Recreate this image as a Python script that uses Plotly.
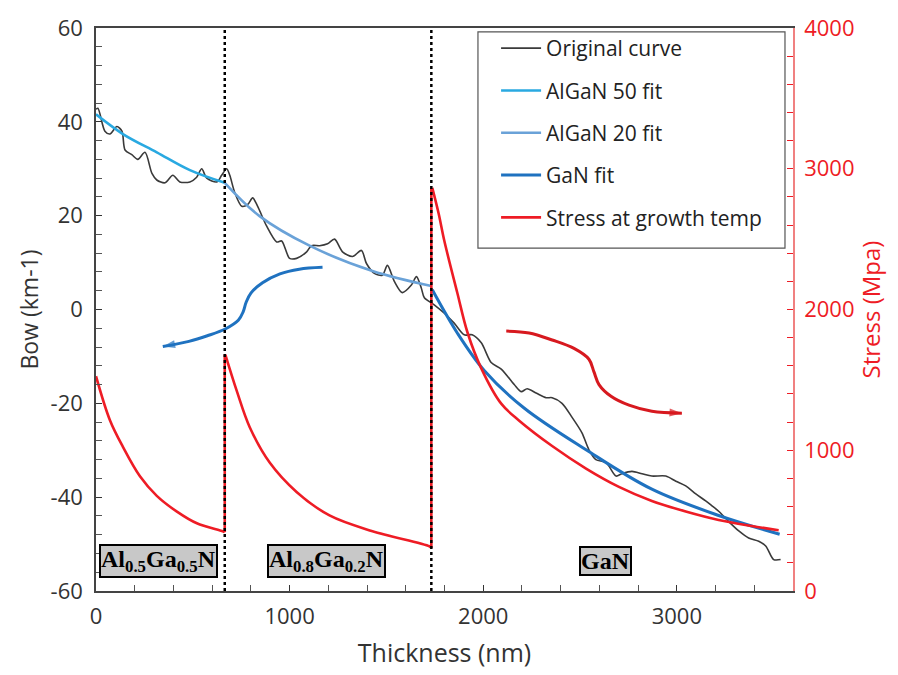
import plotly.graph_objects as go

# ---------------- data ----------------
orig_x = [0, 10, 46, 72, 108, 134, 150, 185, 216, 253, 289, 314, 356, 397, 433, 485, 520, 546, 572, 624,
          649, 675, 691, 716, 753, 784, 809, 835, 881, 933, 959, 1000, 1036, 1088, 1113, 1155, 1196, 1232,
          1273, 1325, 1371, 1397, 1438, 1479, 1505, 1541, 1582, 1629, 1655, 1680, 1696, 1747, 1799, 1850,
          1902, 1943, 1990, 2041, 2093, 2160, 2196, 2227, 2273, 2325, 2356, 2407, 2459, 2510, 2546, 2582,
          2634, 2686, 2716, 2768, 2820, 2871, 2943, 2995, 3046, 3098, 3149, 3180, 3216, 3268, 3320, 3371,
          3423, 3459, 3500, 3536]
orig_y = [42.7, 42.9, 38, 37.4, 39, 38, 34, 33, 32, 33.5, 29, 27.6, 27, 28.6, 27.2, 27.2, 28.2, 30, 28, 27.2,
          28.6, 30, 28.6, 25, 22, 22.4, 23.8, 22, 17.8, 14.4, 14.6, 10.9, 10.9, 12.3, 13.6, 13.6, 14, 15,
          12.3, 11.3, 12.6, 9.8, 7.7, 7.3, 9.4, 6, 3.6, 5.2, 7, 4.6, 2.5, 1.0, -0.8, -2.9,
          -5.4, -5.4, -7.1, -11.3, -12.7, -16, -17.5, -16.9, -17.8, -18.8, -18.8, -20, -23, -26.3, -29.9, -32,
          -32.6, -35.5, -35, -34.5, -35, -35.5, -35.5, -36.6, -37.6, -39.3, -40.8, -41.8, -43, -45.2, -47.2, -48.7,
          -49.4, -50.4, -53.3, -53.3]

algan50_x = [0, 139, 314, 485, 665]
algan50_y = [41.6, 37.4, 33.5, 29.7, 27.0]

algan20_x = [665, 845, 1103, 1428, 1732]
algan20_y = [27.0, 19.9, 13.6, 8.2, 5.0]

gan_x = [1737, 1866, 2005, 2211, 2531, 2871, 3216, 3531]
gan_y = [4.2, -5.0, -13.0, -21.0, -29.9, -38.3, -43.9, -47.9]

# stress (MPa), three growth segments separated by None
stress_x = [0, 72, 139, 227, 314, 418, 521, 655, 665, None,
            668, 727, 794, 897, 1036, 1206, 1428, 1722, 1732, None,
            1737, 1770, 1799, 1866, 1918, 1990, 2093, 2186, 2356, 2531, 2701, 2871, 3046, 3216, 3387, 3526]
stress_y = [1526, 1213, 1024, 815, 676, 564, 481, 425, 418, None,
            1680, 1422, 1164, 913, 704, 537, 425, 318, 306, None,
            2864, 2680, 2488, 2119, 1840, 1582, 1331, 1210, 1030, 870, 740, 640, 565, 505, 462, 432]
# vertical jumps at interfaces
jump_x = [665, 665, None, 1732, 1732]
jump_y = [418, 1680, None, 306, 2864]

interfaces = [665, 1732]

layers = ["<b>Al<sub>0.5</sub>Ga<sub>0.5</sub>N</b>",
          "<b>Al<sub>0.8</sub>Ga<sub>0.2</sub>N</b>",
          "<b>GaN</b>"]
layer_x = [325, 1191, 2629]
layer_y = -53.7

bow_ticks = [-60, -40, -20, 0, 20, 40, 60]
stress_ticks = [0, 1000, 2000, 3000, 4000]
x_ticks = [0, 1000, 2000, 3000]

blue_arrow_x = [1170, 1050, 950, 860, 800, 775, 760, 735, 670, 575, 480, 345]
blue_arrow_y = [9.0, 8.6, 7.6, 5.7, 3.5, 1.5, -0.5, -2.3, -4.1, -5.6, -6.8, -7.9]
red_arrow_x = [2119, 2237, 2356, 2469, 2546, 2572, 2598, 2660, 2753, 2871, 3026]
red_arrow_y = [-4.6, -5.0, -6.5, -8.3, -10.6, -13.3, -16.0, -18.5, -20.4, -21.7, -22.1]

# ---------------- colours ----------------
C_ORIG = "#3a3a3a"
C_A50 = "#29a9e1"
C_A20 = "#6aa2d8"
C_GAN = "#1f72c0"
C_RED = "#ee1c25"
FONT = "Open Sans"

fig = go.Figure()

fig.add_trace(go.Scatter(x=orig_x, y=orig_y, mode="lines", name="Original curve",
                         line=dict(color=C_ORIG, width=1.6, shape="spline", smoothing=0.8),
                         legendgroup="a"))
fig.add_trace(go.Scatter(x=algan50_x, y=algan50_y, mode="lines", name="AlGaN 50 fit",
                         line=dict(color=C_A50, width=2.6, shape="spline"), legendgroup="b"))
fig.add_trace(go.Scatter(x=algan20_x, y=algan20_y, mode="lines", name="AlGaN 20 fit",
                         line=dict(color=C_A20, width=2.6, shape="spline"), legendgroup="c"))
fig.add_trace(go.Scatter(x=gan_x, y=gan_y, mode="lines", name="GaN fit",
                         line=dict(color=C_GAN, width=3, shape="spline"), legendgroup="d"))
fig.add_trace(go.Scatter(x=stress_x, y=stress_y, mode="lines", name="Stress at growth temp",
                         line=dict(color=C_RED, width=2.6, shape="spline"), yaxis="y2",
                         connectgaps=False, legendgroup="e"))
fig.add_trace(go.Scatter(x=jump_x, y=jump_y, mode="lines", showlegend=False,
                         line=dict(color=C_RED, width=2.6), yaxis="y2", connectgaps=False))

# curved arrows
for ax_, ay_, col in [(blue_arrow_x, blue_arrow_y, C_GAN), (red_arrow_x, red_arrow_y, "#d7191f")]:
    n = len(ax_)
    fig.add_trace(go.Scatter(x=ax_, y=ay_, mode="lines+markers", showlegend=False,
                             line=dict(color=col, width=3, shape="spline"),
                             marker=dict(symbol="arrow", size=[0] * (n - 1) + [13], color=col,
                                         angleref="previous", line=dict(width=0))))

# interface dotted lines
for xi in interfaces:
    fig.add_shape(type="line", x0=xi, x1=xi, y0=0, y1=1, xref="x", yref="paper",
                  line=dict(color="black", width=2.5, dash="dot"), layer="above")

# legend frame
fig.add_shape(type="rect", xref="paper", yref="paper", x0=0.548, x1=0.9885, y0=0.609, y1=0.993,
              line=dict(color="#555", width=1.2), fillcolor="white", layer="above")

# layer labels
for t, xx in zip(layers, layer_x):
    fig.add_annotation(x=xx, y=layer_y, xref="x", yref="y", text=t, showarrow=False,
                       font=dict(family="Liberation Serif", size=24, color="black"),
                       bgcolor="#c8c8c8", bordercolor="black", borderwidth=2, borderpad=0)

tickfont = dict(family=FONT, size=22, color="#333333")
fig.update_layout(
    width=898, height=675,
    margin=dict(l=96, r=105, t=18, b=81),
    plot_bgcolor="white", paper_bgcolor="white",
    font=dict(family=FONT, color="#333333"),
    xaxis=dict(range=[0, 3600], tickmode="array", tickvals=x_ticks, ticktext=[str(v) for v in x_ticks],
               ticks="inside", ticklen=6, tickcolor="#333",
               minor=dict(tickmode="linear", tick0=0, dtick=200, ticks="inside", ticklen=6, tickcolor="#555"),
               showline=True, linecolor="#444", linewidth=1.5, mirror=True, ticklabelstandoff=5,
               showgrid=False, zeroline=False, tickfont=tickfont,
               title=dict(text="Thickness (nm)", font=dict(family=FONT, size=25, color="#333"), standoff=15)),
    yaxis=dict(range=[-60, 60], tickmode="array", tickvals=bow_ticks, ticktext=[str(v) for v in bow_ticks],
               ticks="inside", ticklen=6, tickcolor="#333",
               minor=dict(tickmode="linear", tick0=0, dtick=4, ticks="inside", ticklen=6, tickcolor="#555"),
               showline=True, linecolor="#444", linewidth=1.5, ticklabelstandoff=7,
               showgrid=False, zeroline=False, tickfont=tickfont,
               title=dict(text="Bow (km-1)", font=dict(family=FONT, size=23, color="#333"), standoff=6)),
    yaxis2=dict(range=[0, 4000], tickmode="array", tickvals=stress_ticks, ticktext=[str(v) for v in stress_ticks],
                overlaying="y", side="right", ticks="inside", ticklen=6, tickcolor=C_RED,
                minor=dict(tickmode="linear", tick0=0, dtick=200, ticks="inside", ticklen=6, tickcolor=C_RED),
                showline=True, linecolor="#f08080", linewidth=1.5, showgrid=False, zeroline=False,
                ticklabelstandoff=5, tickfont=dict(family=FONT, size=22, color=C_RED),
                title=dict(text="Stress (Mpa)", font=dict(family=FONT, size=24, color=C_RED), standoff=6)),
    legend=dict(x=0.574, y=1.0, xanchor="left", yanchor="top", bgcolor="rgba(0,0,0,0)",
                borderwidth=0, font=dict(family=FONT, size=21, color="#222"),
                tracegroupgap=12, traceorder="grouped", itemwidth=40),
)

fig.write_html("out.html")
